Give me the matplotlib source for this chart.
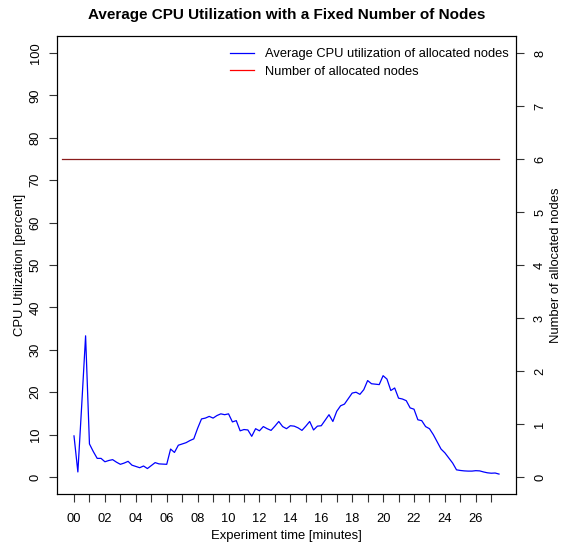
import matplotlib
matplotlib.use("Agg")
import matplotlib.pyplot as plt
import numpy as np

plt.rcParams['font.family'] = ['Liberation Sans', 'DejaVu Sans']

# samples every 15 seconds (minutes)
step = 0.25
cpu = [9.7, 1.2, 17.0, 33.3, 7.8, 6.0, 4.4, 4.4, 3.6, 3.9,
       4.1, 3.5, 3.0, 3.3, 3.7, 2.8, 2.5, 2.2, 2.6, 2.0,
       2.7, 3.4, 3.1, 3.05, 3.0, 6.6, 5.8, 7.5, 7.8, 8.1,
       8.6, 9.0, 11.5, 13.7, 13.9, 14.3, 13.9, 14.5, 14.9, 14.7,
       14.9, 13.0, 13.3, 10.9, 11.2, 11.1, 9.6, 11.4, 10.9, 11.9,
       11.4, 11.0, 12.0, 13.1, 11.9, 11.4, 12.1, 12.0, 11.6, 11.0,
       12.0, 13.1, 11.1, 12.0, 12.1, 13.4, 14.7, 13.1, 15.5, 16.8,
       17.2, 18.5, 19.8, 20.0, 19.5, 20.6, 22.75, 22.0, 21.9, 21.8,
       23.9, 23.1, 20.4, 21.0, 18.6, 18.4, 18.0, 16.3, 16.0, 13.5,
       13.3, 11.9, 11.4, 10.0, 8.3, 6.6, 5.7, 4.5, 3.3, 1.7,
       1.55, 1.45, 1.4, 1.4, 1.5, 1.45, 1.2, 1.0, 0.9, 0.95,
       0.7]
time = np.arange(len(cpu)) * step

node_time = [-0.75, 27.5]
nodes = [6, 6]

xlabels = ["%02d" % m for m in range(0, 28)]

fig = plt.figure(figsize=(5.61, 5.48), dpi=100)
ax = fig.add_axes([57/561, 1-494/548, 459/561, 458/548])
ax2 = ax.twinx()

ax.plot(time, cpu, color='#0000ff', lw=0.9)
ax2.plot(node_time, nodes, color='#8a1c1c', lw=0.9)

ax.set_xlim(-1.1, 28.6)
ax.set_ylim(-4, 104)
ax2.set_ylim(-0.32, 8.32)

ax.set_xticks(range(0, 28))
ax.set_xticklabels([l if i % 2 == 0 else "" for i, l in enumerate(xlabels)])
ax.set_yticks(range(0, 101, 10))
ax2.set_yticks(range(0, 9))

for a in (ax, ax2):
    a.tick_params(length=6, width=0.8, labelsize=9.3, color='#333333')
    for s in a.spines.values():
        s.set_linewidth(0.8)
ax.tick_params(axis='x', pad=8)
ax.tick_params(axis='y', labelrotation=90, pad=5)
ax2.tick_params(axis='y', labelrotation=90, pad=7)
for t in ax.get_yticklabels():
    t.set_va('center')
for t in ax2.get_yticklabels():
    t.set_va('center')

ax.set_xlabel("Experiment time [minutes]", fontsize=9.4, labelpad=3)
ax.set_ylabel("CPU Utilization [percent]", fontsize=9.4, labelpad=3)
ax2.set_ylabel("Number of allocated nodes", fontsize=9.4, rotation=90, va='center')
ax2.yaxis.set_label_coords(1.087, 0.5)

fig.suptitle("Average CPU Utilization with a Fixed Number of Nodes",
             fontsize=11, fontweight='bold', x=287/561, y=1-15/548, va='center')

h1, = ax.plot([], [], color='#0000ff', lw=0.9)
h2, = ax.plot([], [], color='#ff0000', lw=0.9)
ax.legend([h1, h2], ["Average CPU utilization of allocated nodes", "Number of allocated nodes"],
          loc='upper right', frameon=False, fontsize=9.3, handlelength=1.85,
          handletextpad=0.85, labelspacing=0.45, borderaxespad=0.0,
          bbox_to_anchor=(0.995, 0.985))

fig.savefig("out.png", dpi=100)
